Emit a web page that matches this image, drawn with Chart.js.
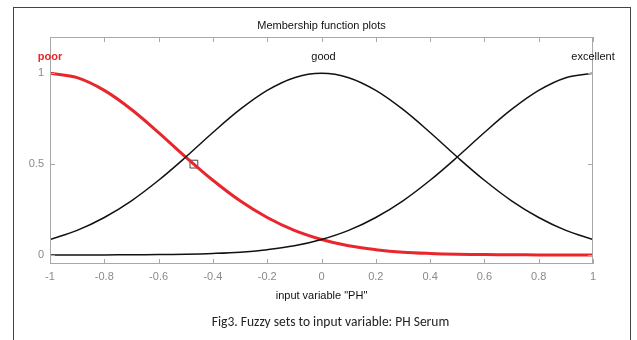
<!DOCTYPE html>
<html>
<head>
<meta charset="utf-8">
<script src="https://cdn.jsdelivr.net/npm/chart.js@4/dist/chart.umd.min.js"></script>
<style>
  body { margin: 0; background: #fff; }
  #frame { position: absolute; left: 13px; top: 7px; width: 616px; height: 340px; border: 1px solid #444; }
  #chart { position: absolute; left: 0; top: 0; }
  #caption { position: absolute; left: 0; top: 313px; width: 661px; text-align: center;
    font-family: Carlito, Lato, "Open Sans", sans-serif; font-size: 13.5px; color: #222; }
</style>
</head>
<body>
<div id="frame"></div>
<canvas id="chart" width="637" height="340"></canvas>
<div id="caption">Fig3. Fuzzy sets to input variable: PH Serum</div>
<script>
// values
const xs = [-1, -0.9, -0.8, -0.7, -0.6, -0.5, -0.4, -0.3, -0.2, -0.1, 0,
            0.1, 0.2, 0.3, 0.4, 0.5, 0.6, 0.7, 0.8, 0.9, 1];
const poor = [1, 0.976, 0.906, 0.801, 0.674, 0.539, 0.411, 0.298, 0.206, 0.135, 0.085,
              0.05, 0.029, 0.015, 0.008, 0.004, 0.002, 0.001, 0, 0, 0];
const good = [0.085, 0.135, 0.206, 0.298, 0.411, 0.539, 0.674, 0.801, 0.906, 0.976, 1,
              0.976, 0.906, 0.801, 0.674, 0.539, 0.411, 0.298, 0.206, 0.135, 0.085];
const excellent = [0, 0, 0, 0.001, 0.002, 0.004, 0.008, 0.015, 0.029, 0.05, 0.085,
                   0.135, 0.206, 0.298, 0.411, 0.539, 0.674, 0.801, 0.906, 0.976, 1];
const marker = [{ x: -0.47, y: 0.5 }];
const xTicks = [-1, -0.8, -0.6, -0.4, -0.2, 0, 0.2, 0.4, 0.6, 0.8, 1];
const yTicks = [0, 0.5, 1];
const mfNames = ['poor', 'good', 'excellent'];
const mfCenters = [-1, 0, 1];

const pts = ys => xs.map((x, i) => ({ x: x, y: ys[i] }));
const grey = '#8a8a8a';

const decor = {
  id: 'decor',
  afterDraw(chart) {
    const { ctx, chartArea: a, scales: { x, y } } = chart;
    ctx.save();
    ctx.strokeStyle = '#a8a8a8';
    ctx.lineWidth = 1;
    ctx.strokeRect(a.left + 0.5, a.top + 0.5, a.right - a.left - 1, a.bottom - a.top - 1);
    ctx.beginPath();
    xTicks.forEach(v => {
      const px = Math.round(x.getPixelForValue(v)) + 0.5;
      ctx.moveTo(px, a.top); ctx.lineTo(px, a.top + 5);
      ctx.moveTo(px, a.bottom); ctx.lineTo(px, a.bottom - 5);
    });
    yTicks.forEach(v => {
      const py = Math.round(y.getPixelForValue(v)) + 0.5;
      ctx.moveTo(a.left, py); ctx.lineTo(a.left + 5, py);
      ctx.moveTo(a.right, py); ctx.lineTo(a.right - 5, py);
    });
    ctx.stroke();

    ctx.textAlign = 'center';
    ctx.textBaseline = 'middle';
    ctx.fillStyle = '#111';
    ctx.font = '11px "Liberation Sans", Arial, sans-serif';
    ctx.fillText('Membership function plots', (a.left + a.right) / 2, 26);
    mfNames.forEach((n, i) => {
      const px = x.getPixelForValue(mfCenters[i]);
      const py = y.getPixelForValue(1.09);
      if (i === 0) {
        ctx.fillStyle = '#e8262b';
        ctx.font = 'bold 11px "Liberation Sans", Arial, sans-serif';
      } else {
        ctx.fillStyle = '#111';
        ctx.font = '11px "Liberation Sans", Arial, sans-serif';
      }
      ctx.fillText(n, px + (i === 1 ? 2 : 0), py);
    });
    ctx.restore();
  }
};

new Chart(document.getElementById('chart'), {
  type: 'line',
  data: {
    datasets: [
      { label: 'good', data: pts(good), borderColor: '#111', borderWidth: 1.5 },
      { label: 'excellent', data: pts(excellent), borderColor: '#111', borderWidth: 1.5 },
      { label: 'poor', data: pts(poor), borderColor: '#e8262b', borderWidth: 3 },
      { label: 'marker', data: marker, showLine: false, pointRadius: 5.5, pointStyle: 'rect',
        pointBorderColor: '#444', pointBackgroundColor: 'rgba(0,0,0,0)', pointBorderWidth: 1 }
    ]
  },
  options: {
    responsive: false,
    animation: false,
    layout: { padding: { left: 0, right: 44, top: 37, bottom: 0 } },
    elements: {
      line: { tension: 0.35, fill: false },
      point: { radius: 0 }
    },
    plugins: { legend: { display: false }, tooltip: { enabled: false }, title: { display: false } },
    scales: {
      x: {
        type: 'linear', min: -1, max: 1,
        afterBuildTicks: s => { s.ticks = xTicks.map(v => ({ value: v })); },
        afterFit: s => { s.height = 76; },
        grid: { display: false, drawTicks: false },
        border: { display: false },
        ticks: {
          padding: 6, color: grey, font: { family: '"Liberation Sans", Arial', size: 11 },
          callback: v => String(Number(v.toFixed(1)))
        },
        title: {
          display: true, text: 'input variable "PH"', color: '#111',
          font: { family: '"Liberation Sans", Arial', size: 11 },
          padding: { top: 0, bottom: 37 }
        }
      },
      y: {
        min: -0.05, max: 1.2,
        afterBuildTicks: s => { s.ticks = yTicks.map(v => ({ value: v })); },
        afterFit: s => { s.width = 50; },
        grid: { display: false, drawTicks: false },
        border: { display: false },
        ticks: {
          padding: 6, color: grey, font: { family: '"Liberation Sans", Arial', size: 11 },
          callback: v => String(v)
        }
      }
    }
  },
  plugins: [decor]
});
</script>
</body>
</html>
